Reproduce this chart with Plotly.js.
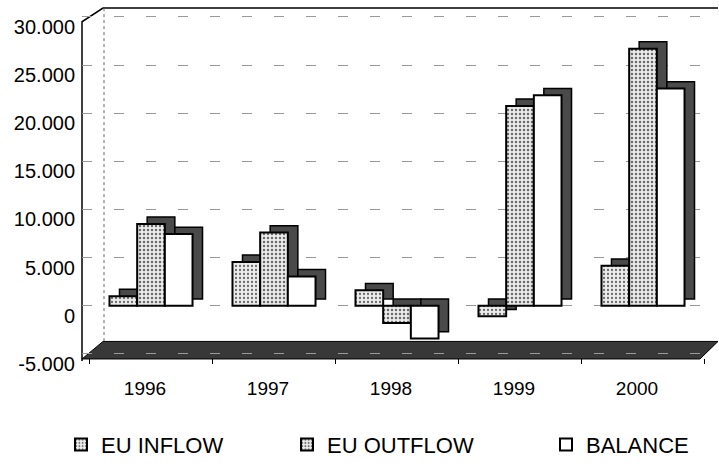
<!DOCTYPE html>
<html>
<head>
<meta charset="utf-8">
<script src="https://cdn.plot.ly/plotly-3.0.1.min.js"></script>
<style>html,body{margin:0;padding:0;background:#fff;}#chart{width:719px;height:467px;}</style>
</head>
<body>
<div id="chart"></div>
<script>
// ---- data ----
const years = ['1996', '1997', '1998', '1999', '2000'];
const euInflow = [1000, 4550, 1600, -1100, 4150];
const euOutflow = [8500, 7600, -1800, 20750, 26700];
const balance = [7450, 3050, -3400, 21850, 22550];
const seriesNames = ['EU INFLOW', 'EU OUTFLOW', 'BALANCE'];
const yTickVals = [-5000, 0, 5000, 10000, 15000, 20000, 25000, 30000];
const yTickText = ['-5.000', '0', '5.000', '10.000', '15.000', '20.000', '25.000', '30.000'];

// ---- geometry (pixels) ----
const W = 719, H = 467;
const L = 82, R = 718, T = 12, B = 367;
const pxPerCat = 123;
const pxPer1000 = 9.88;
const zeroPx = 313.4;
const yTop = (zeroPx - T) / pxPer1000 * 1000;
const yBottom = -(B - zeroPx) / pxPer1000 * 1000;
const xLeft = -0.561, xRight = xLeft + (R - L) / pxPerCat;
const barW = 0.225;
const offsets = [-0.3375, -0.1125, 0.1125];
const depthX = 10 / pxPerCat;
const depthY = 7 / pxPer1000 * 1000;

const px = v => (v - L) / (R - L);
const py = v => (B - v) / (B - T);

const values = [euInflow, euOutflow, balance];
const legends = ['legend', 'legend2', 'legend3'];
const fronts = [
  {color: '#e6e6e6', pattern: {shape: '.', fgcolor: '#6a6a6a', bgcolor: '#ececec', size: 4, solidity: 0.25}},
  {color: '#e6e6e6', pattern: {shape: '.', fgcolor: '#6a6a6a', bgcolor: '#ececec', size: 4, solidity: 0.3}},
  {color: '#ffffff', pattern: null}
];

const traces = [];
// depth (side/top) faces
values.forEach((vals, i) => {
  traces.push({
    type: 'bar', x: years, y: vals, base: depthY,
    offset: offsets[i] + depthX, width: barW,
    marker: {color: '#4a4a4a', line: {color: '#000', width: 1.5}},
    showlegend: false, hoverinfo: 'skip'
  });
});
// front faces
values.forEach((vals, i) => {
  const m = {color: fronts[i].color, line: {color: '#000', width: 2}};
  if (fronts[i].pattern) m.pattern = fronts[i].pattern;
  traces.push({
    type: 'bar', x: years, y: vals, name: seriesNames[i],
    offset: offsets[i], width: barW, marker: m,
    legend: legends[i], hoverinfo: 'skip'
  });
});

const legendFont = {family: 'Liberation Sans, Arial, sans-serif', size: 22, color: '#000'};
const legendY = py(456);
function leg(xpx) {
  return {orientation: 'h', x: px(xpx), y: legendY, xanchor: 'left', yanchor: 'middle',
          font: legendFont, bgcolor: 'rgba(0,0,0,0)', itemwidth: 30};
}

const layout = {
  width: W, height: H,
  margin: {l: L, r: W - R, t: T, b: H - B, pad: 0},
  paper_bgcolor: '#fff', plot_bgcolor: 'rgba(0,0,0,0)',
  barmode: 'overlay',
  font: {family: 'Liberation Sans, Arial, sans-serif', color: '#000'},
  xaxis: {
    type: 'category', range: [xLeft, xRight], showgrid: false, showline: false, zeroline: false,
    ticks: 'outside', tickson: 'boundaries', ticklen: 5, tickcolor: '#000', tickwidth: 1,
    tickfont: {size: 19}, ticklabelshift: -6, ticklabelstandoff: 17, fixedrange: true
  },
  yaxis: {
    range: [yBottom, yTop], tickvals: yTickVals, ticktext: yTickText,
    showline: false, ticks: '',
    showgrid: true, gridcolor: '#9a9a9a', gridwidth: 1, griddash: '10px,22px', zeroline: false,
    tickfont: {size: 20}, ticklabelshift: 10, ticklabelstandoff: 6, fixedrange: true
  },
  legend: leg(61), legend2: leg(287), legend3: leg(546),
  shapes: [
    {type: 'path', xref: 'paper', yref: 'paper', layer: 'below',
     path: `M ${px(82)},${py(368)} L ${px(103)},${py(350)} L ${px(718)},${py(350)} L ${px(700)},${py(368)} Z`,
     fillcolor: '#383838', line: {color: '#000', width: 1}},
    {type: 'path', xref: 'paper', yref: 'paper', layer: 'below',
     path: `M ${px(82)},${py(370)} L ${px(82)},${py(22)} L ${px(103)},${py(8)} L ${px(718)},${py(8)}`,
     line: {color: '#000', width: 1.5}},
    {type: 'line', xref: 'paper', yref: 'paper', layer: 'below',
     x0: px(104), x1: px(104), y0: py(8), y1: py(350),
     line: {color: '#666', width: 1, dash: 'dot'}}
  ]
};

Plotly.newPlot('chart', traces, layout, {displayModeBar: false, staticPlot: true});
</script>
</body>
</html>
